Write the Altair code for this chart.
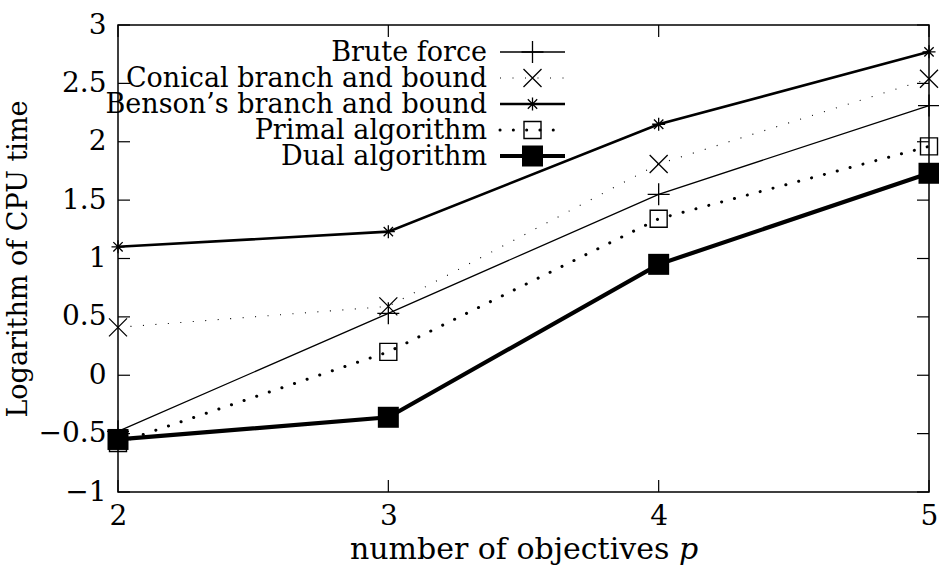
import altair as alt
import pandas as pd

# Number of objectives p
objectives = [2, 3, 4, 5]

# Logarithm of CPU time for each algorithm
brute_force = [-0.48, 0.53, 1.55, 2.31]
conical_bb = [0.41, 0.59, 1.81, 2.54]
benson_bb = [1.10, 1.23, 2.15, 2.77]
primal_alg = [-0.58, 0.20, 1.34, 1.96]
dual_alg = [-0.55, -0.36, 0.95, 1.73]

series_names = [
    "Brute force",
    "Conical branch and bound",
    "Benson\u2019s branch and bound",
    "Primal algorithm",
    "Dual algorithm",
]
series_values = [brute_force, conical_bb, benson_bb, primal_alg, dual_alg]

y_ticks = [-1, -0.5, 0, 0.5, 1, 1.5, 2, 2.5, 3]
x_ticks = [2, 3, 4, 5]

W, H = 811, 467
FONT = "DejaVu Serif"
TICK_LEN = 12

PLUS = "M-1,0L1,0M0,-1L0,1"
CROSS = "M-1,-1L1,1M-1,1L1,-1"
STAR = "M-1,0L1,0M0,-1L0,1M-0.72,-0.72L0.72,0.72M-0.72,0.72L0.72,-0.72"

styles = [
    dict(width=1.3, dash=None, cap="butt", shape=PLUS, size=484, filled=False, pw=1.3),
    dict(width=1.1, dash=[1, 11.5], cap="butt", shape=CROSS, size=324, filled=False, pw=1.3),
    dict(width=2.6, dash=None, cap="butt", shape=STAR, size=169, filled=False, pw=1.3),
    dict(width=3.0, dash=[0.1, 13.2], cap="round", shape="square", size=289, filled=False, pw=1.4),
    dict(width=4.2, dash=None, cap="butt", shape="square", size=441, filled=True, pw=0),
]

x_scale = alt.Scale(domain=[2, 5], nice=False, zero=False)
y_scale = alt.Scale(domain=[-1, 3], nice=False, zero=False)

x_enc = alt.X(
    "p:Q",
    scale=x_scale,
    axis=alt.Axis(
        values=x_ticks, ticks=False, domain=False, grid=False, format="~g",
        labelFont=FONT, labelFontSize=28, labelColor="black", labelPadding=10,
        title="number of objectives \U0001D45D", titleFont=FONT, titleFontSize=30,
        titleFontWeight="normal", titleColor="black", titlePadding=4,
        labelFlush=False,
    ),
)
y_enc = alt.Y(
    "t:Q",
    scale=y_scale,
    axis=alt.Axis(
        values=y_ticks, ticks=False, domain=False, grid=False,
        labelExpr="replace(format(datum.value, '~g'), '-', '\u2212')",
        labelFont=FONT, labelFontSize=28, labelColor="black", labelPadding=12,
        labelFlush=False,
        title="Logarithm of CPU time", titleFont=FONT, titleFontSize=27,
        titleFontWeight="normal", titleColor="black",
        titleX=-92, titleY=H / 2, titleAngle=270, titleBaseline="alphabetic",
        titleAlign="center",
    ),
)

main_layers = []
legend_layers = []

for i, (name, vals, st) in enumerate(zip(series_names, series_values, styles)):
    df = pd.DataFrame({"p": objectives, "t": vals, "name": name})
    line_kw = dict(color="black", strokeWidth=st["width"], strokeCap=st["cap"])
    if st["dash"]:
        line_kw["strokeDash"] = st["dash"]
    pt_kw = dict(shape=st["shape"], size=st["size"], opacity=1)
    if st["filled"]:
        pt_kw.update(filled=True, color="black", strokeWidth=0)
    else:
        pt_kw.update(filled=False, stroke="black", strokeWidth=st["pw"], fill=None)

    base = alt.Chart(df)
    main_layers.append(base.mark_line(**line_kw).encode(x=x_enc, y=y_enc))
    main_layers.append(base.mark_point(**pt_kw).encode(x=x_enc, y=y_enc))

    # legend entry: label, line sample, marker
    ldf = pd.DataFrame({"row": [i], "name": [name]})
    row_y = alt.Y("row:Q", scale=alt.Scale(domain=[0, 4], range=[27, 131]), axis=None)
    lb = alt.Chart(ldf)
    legend_layers.append(
        lb.mark_text(align="right", baseline="middle", font=FONT, fontSize=27,
                     color="black", dy=1).encode(x=alt.value(369), y=row_y, text="name:N")
    )
    legend_layers.append(
        lb.mark_rule(**line_kw).encode(x=alt.value(382), x2=alt.value(447), y=row_y)
    )
    legend_layers.append(
        lb.mark_point(**pt_kw).encode(x=alt.value(414.5), y=row_y)
    )

# inward tick marks on all four sides
ydf = pd.DataFrame({"t": y_ticks})
xdf = pd.DataFrame({"p": x_ticks})
tick_kw = dict(color="black", strokeWidth=1.2)
ticks = [
    alt.Chart(ydf).mark_rule(**tick_kw).encode(y=alt.Y("t:Q", scale=y_scale), x=alt.value(0), x2=alt.value(TICK_LEN)),
    alt.Chart(ydf).mark_rule(**tick_kw).encode(y=alt.Y("t:Q", scale=y_scale), x=alt.value(W - TICK_LEN), x2=alt.value(W)),
    alt.Chart(xdf).mark_rule(**tick_kw).encode(x=alt.X("p:Q", scale=x_scale), y=alt.value(H), y2=alt.value(H - TICK_LEN)),
    alt.Chart(xdf).mark_rule(**tick_kw).encode(x=alt.X("p:Q", scale=x_scale), y=alt.value(0), y2=alt.value(TICK_LEN)),
]

main = alt.layer(*main_layers, *ticks)
legend = alt.layer(*legend_layers)

chart = (
    alt.layer(main, legend)
    .resolve_scale(y="independent")
    .properties(
        width=W,
        height=H,
        autosize=alt.AutoSizeParams(type="none"),
        padding={"left": 118, "top": 25, "right": 10, "bottom": 78},
        background="white",
    )
    .configure_view(stroke="black", strokeWidth=1.5)
)

chart.save("out.html", embed_options={"renderer": "svg", "actions": False})
